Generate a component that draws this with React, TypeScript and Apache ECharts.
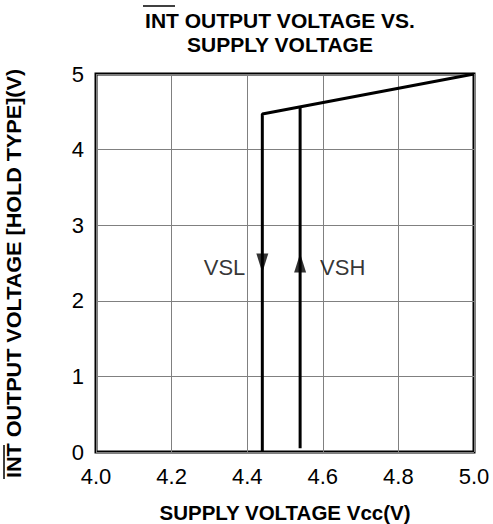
import React, { useEffect, useRef } from "react";
import * as echarts from "echarts";

const titleLines = ["INT OUTPUT VOLTAGE VS.", "SUPPLY VOLTAGE"];
const xAxisName = "SUPPLY VOLTAGE Vcc(V)";
const yAxisName = "INT OUTPUT VOLTAGE [HOLD TYPE](V)";

const xMin = 4.0;
const xMax = 5.0;
const xStep = 0.2;
const yMin = 0;
const yMax = 5;
const yStep = 1;

// VSL path: falling supply, output holds then drops at VSL
const vslCurve: [number, number][] = [
  [4.44, 0],
  [4.44, 4.47],
  [5.0, 5.0],
];
// VSH path: rising supply, output rises at VSH
const vshCurve: [number, number][] = [
  [4.54, 0.05],
  [4.54, 4.565],
];
const vslArrow: [number, number][] = [[4.44, 2.5]];
const vshArrow: [number, number][] = [[4.54, 2.5]];
const vslLabel = "VSL";
const vshLabel = "VSH";

const FONT = "Liberation Sans, Arial, sans-serif";

export default function App() {
  const ref = useRef<HTMLDivElement>(null);
  useEffect(() => {
    document.body.style.margin = "0";
    if (!ref.current) return;
    const chart = echarts.init(ref.current, null, { renderer: "svg" });
    chart.setOption({
      animation: false,
      backgroundColor: "#ffffff",
      grid: {
        left: 96,
        right: 19,
        top: 74,
        bottom: 72,
        show: true,
        borderColor: "#000",
        borderWidth: 3,
        backgroundColor: "transparent",
      },
      xAxis: {
        type: "value",
        min: xMin,
        max: xMax,
        interval: xStep,
        axisLine: { show: false },
        axisTick: { show: false },
        splitLine: { show: true, lineStyle: { color: "#808080", width: 1 } },
        axisLabel: {
          color: "#000",
          fontSize: 22,
          fontFamily: FONT,
          margin: 13,
          formatter: (v: number) => v.toFixed(1),
        },
      },
      yAxis: {
        type: "value",
        min: yMin,
        max: yMax,
        interval: yStep,
        axisLine: { show: false },
        axisTick: { show: false },
        splitLine: { show: true, lineStyle: { color: "#808080", width: 1 } },
        axisLabel: {
          color: "#000",
          fontSize: 22,
          fontFamily: FONT,
          margin: 12,
        },
      },
      series: [
        {
          type: "line",
          data: vslCurve,
          symbol: "none",
          lineStyle: { color: "#000", width: 3 },
          z: 3,
        },
        {
          type: "line",
          data: vshCurve,
          symbol: "none",
          lineStyle: { color: "#000", width: 3 },
          z: 3,
        },
        {
          type: "scatter",
          data: vslArrow,
          symbol: "triangle",
          symbolRotate: 180,
          symbolSize: [12, 19],
          itemStyle: { color: "#000" },
          label: {
            show: true,
            position: "left",
            distance: 11,
            formatter: vslLabel,
            color: "#000",
            fontSize: 22,
            fontFamily: FONT,
            offset: [0, 4],
          },
          z: 4,
        },
        {
          type: "scatter",
          data: vshArrow,
          symbol: "triangle",
          symbolSize: [12, 19],
          itemStyle: { color: "#000" },
          label: {
            show: true,
            position: "right",
            distance: 14,
            formatter: vshLabel,
            color: "#000",
            fontSize: 22,
            fontFamily: FONT,
            offset: [0, 4],
          },
          z: 4,
        },
      ],
      graphic: [
        {
          type: "text",
          x: 280,
          y: 20,
          style: {
            text: titleLines[0],
            fontSize: 21,
            fontWeight: "bold",
            fontFamily: FONT,
            fill: "#000",
            align: "center",
            verticalAlign: "middle",
          },
        },
        {
          type: "text",
          x: 280,
          y: 44.5,
          style: {
            text: titleLines[1],
            fontSize: 21,
            fontWeight: "bold",
            fontFamily: FONT,
            fill: "#000",
            align: "center",
            verticalAlign: "middle",
          },
        },
        {
          type: "line",
          shape: { x1: 143, y1: 6, x2: 175, y2: 6 },
          style: { stroke: "#000", lineWidth: 1.5 },
        },
        {
          type: "text",
          x: 285,
          y: 512,
          style: {
            text: xAxisName,
            fontSize: 20.5,
            fontWeight: "bold",
            fontFamily: FONT,
            fill: "#000",
            align: "center",
            verticalAlign: "middle",
          },
        },
        {
          type: "text",
          x: 14,
          y: 273.5,
          rotation: Math.PI / 2,
          scaleX: 1.08,
          style: {
            text: yAxisName,
            fontSize: 20,
            fontWeight: "bold",
            fontFamily: FONT,
            fill: "#000",
            align: "center",
            verticalAlign: "middle",
          },
        },
        {
          type: "line",
          shape: { x1: 4, y1: 445, x2: 4, y2: 479 },
          style: { stroke: "#000", lineWidth: 1.5 },
        },
      ],
    });
    return () => chart.dispose();
  }, []);
  return <div ref={ref} style={{ width: 493, height: 524 }} />;
}
